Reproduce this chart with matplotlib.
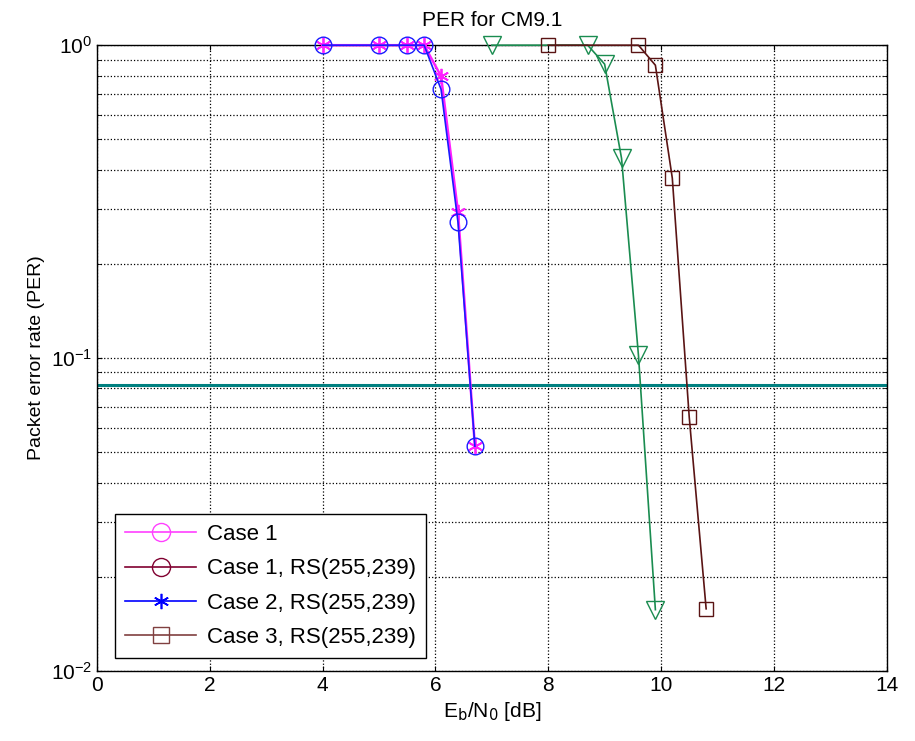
import numpy as np
import matplotlib
matplotlib.use("Agg")
import matplotlib.pyplot as plt
from matplotlib.lines import Line2D

plt.rcParams['font.family'] = ['Liberation Sans Narrow', 'Liberation Sans', 'DejaVu Sans']

# --- data ---
ebn0_blue = [4.0, 5.0, 5.5, 5.8, 6.1, 6.4, 6.7]
per_blue = [1.0, 1.0, 1.0, 1.0, 0.723, 0.272, 0.0523]

ebn0_mag = [4.0, 5.0, 5.5, 5.8, 6.1, 6.4, 6.7]
per_mag = [1.0, 1.0, 1.0, 1.0, 0.796, 0.293, 0.0523]

ebn0_green = [7.0, 8.7, 9.0, 9.3, 9.6, 9.9]
per_green = [1.0, 1.0, 0.87, 0.435, 0.102, 0.0157]

ebn0_brown = [8.0, 9.6, 9.9, 10.2, 10.5, 10.8]
per_brown = [1.0, 1.0, 0.863, 0.376, 0.0648, 0.0158]

per_target = 0.082

legend_labels = ["Case 1", "Case 1, RS(255,239)", "Case 2, RS(255,239)", "Case 3, RS(255,239)"]

asterisk = (6, 2, 0)

fig = plt.figure(figsize=(9.15, 7.41), dpi=100)
ax = fig.add_axes([0.106, 0.0945, 0.863, 0.8445])

ax.axhline(per_target, color="#008080", lw=2.2, zorder=2)
ax.plot(ebn0_green, per_green, "-v", color="#1a8c50", mfc="none", ms=13, lw=1.2, zorder=3, clip_on=False)
ax.plot(ebn0_brown, per_brown, "-s", color="#5a1414", mfc="none", ms=10.5, lw=1.2, zorder=3, clip_on=False)
ax.plot(ebn0_mag, per_mag, "-", marker=asterisk, color="#ff20ff", ms=11, mew=1.3, lw=1.8, zorder=4, clip_on=False)
ax.plot(ebn0_blue, per_blue, "-o", color="#1a1aff", mfc="none", ms=12, lw=1.2, zorder=5, clip_on=False)

ax.set_yscale("log")
ax.set_xlim(0, 14)
ax.set_ylim(1e-2, 1)
ax.set_xticks(np.arange(0, 15, 2))
ax.grid(True, which="major", color="k", ls=":", lw=0.9)
ax.grid(True, which="minor", axis="y", color="k", ls=":", lw=0.9)
ax.tick_params(which="both", direction="in", labelsize=15, top=True, right=True)
ax.tick_params(which="minor", length=3)
for s in ax.spines.values():
    s.set_linewidth(1.0)

ax.set_title("PER for CM9.1", fontsize=15, pad=14)
ax.set_xlabel(r"E$_{\mathrm{b}}$/N$_{0}$ [dB]", fontsize=15)
ax.set_ylabel("Packet error rate (PER)", fontsize=14)

handles = [
    Line2D([], [], color="#ff40ff", marker="o", mfc="none", ms=13, lw=1.2),
    Line2D([], [], color="#800030", marker="o", mfc="none", ms=13, lw=1.2),
    Line2D([], [], color="#0000ff", marker=asterisk, ms=11, mew=1.2, lw=1.2),
    Line2D([], [], color="#804040", marker="s", mfc="none", ms=11, lw=1.2),
]
leg = ax.legend(handles, legend_labels, loc="lower left", bbox_to_anchor=(0.0228, 0.0208),
                borderaxespad=0, fontsize=16, fancybox=False, edgecolor="k", framealpha=1,
                handlelength=3.2, handletextpad=0.5, borderpad=0.45, labelspacing=0.6)
leg.get_frame().set_linewidth(1.0)

fig.savefig("out.png", dpi=100)
